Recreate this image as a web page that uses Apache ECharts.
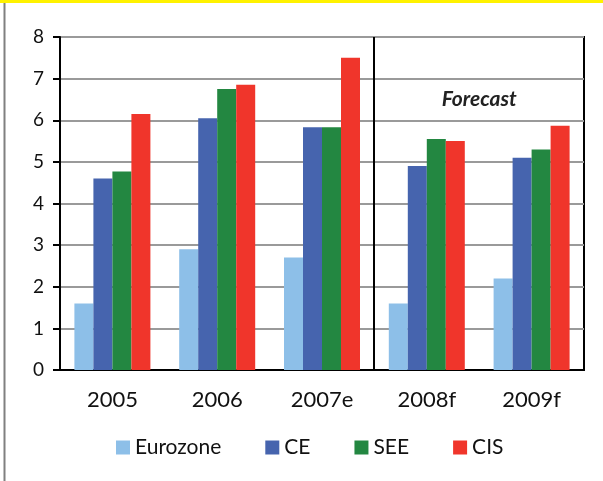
<!DOCTYPE html>
<html>
<head>
<meta charset="utf-8">
<script src="https://cdn.jsdelivr.net/npm/echarts@6/dist/echarts.min.js"></script>
<style>
  html, body { margin: 0; padding: 0; background: #fff; }
  #main { width: 603px; height: 481px; }
</style>
</head>
<body>
<div id="main"></div>
<script>
// categories and series values
var years = ['2005', '2006', '2007e', '2008f', '2009f']
var eurozone = [1.6, 2.9, 2.7, 1.6, 2.2]
var ce = [4.6, 6.05, 5.83, 4.9, 5.1]
var see = [4.77, 6.75, 5.83, 5.55, 5.3]
var cis = [6.15, 6.85, 7.5, 5.5, 5.87]
var seriesNames = ['Eurozone', 'CE', 'SEE', 'CIS']
var colors = ['#8dbfe8', '#4664ae', '#238741', '#f0352b']

var font = 'Lato, "DejaVu Sans", sans-serif'
var chartDom = document.getElementById('main')
var myChart = echarts.init(chartDom)

var makeBar = function (name, data) {
  return {
    name: name,
    type: 'bar',
    barWidth: 19,
    barGap: '0%',
    data: data,
  }
}

var option = {
  animation: false,
  color: colors,
  textStyle: { fontFamily: font },
  grid: {
    left: 60,
    right: 19,
    top: 37,
    bottom: 111,
    show: true,
    borderColor: '#000',
    borderWidth: 2,
  },
  legend: {
    data: seriesNames,
    left: 111,
    top: 432,
    itemWidth: 14,
    itemHeight: 14,
    itemGap: 44,
    icon: 'rect',
    textStyle: { fontSize: 21, color: '#111', fontFamily: font },
  },
  xAxis: {
    type: 'category',
    data: years,
    axisLine: { lineStyle: { color: '#000', width: 2 } },
    axisTick: { length: 6, lineStyle: { color: '#000', width: 2 } },
    axisLabel: { fontSize: 22, color: '#111', margin: 19, fontFamily: font },
  },
  yAxis: {
    type: 'value',
    min: 0,
    max: 8,
    interval: 1,
    axisLine: { show: true, lineStyle: { color: '#000', width: 2 } },
    axisTick: { show: true, length: 7, lineStyle: { color: '#000', width: 2 } },
    axisLabel: { fontSize: 19, color: '#111', margin: 16, fontFamily: font },
    splitLine: { lineStyle: { color: '#9a9a9a', width: 2 } },
  },
  series: [
    makeBar('Eurozone', eurozone),
    makeBar('CE', ce),
    makeBar('SEE', see),
    makeBar('CIS', cis),
  ],
}
myChart.setOption(option)

// separator between actual and forecast years, and the "Forecast" label
var c2 = myChart.convertToPixel({ xAxisIndex: 0 }, '2007e')
var c3 = myChart.convertToPixel({ xAxisIndex: 0 }, '2008f')
var c4 = myChart.convertToPixel({ xAxisIndex: 0 }, '2009f')
var yTop = myChart.convertToPixel({ yAxisIndex: 0 }, 8)
var yBottom = myChart.convertToPixel({ yAxisIndex: 0 }, 0)
var yF = myChart.convertToPixel({ yAxisIndex: 0 }, 6.5)
var xSep = Math.round((c2 + c3) / 2)

myChart.setOption({
  graphic: [
    { type: 'rect', left: 0, top: 0, shape: { width: 603, height: 3 }, style: { fill: '#fff200' } },
    { type: 'line', shape: { x1: 4.5, y1: 3, x2: 4.5, y2: 481 }, style: { stroke: '#808080', lineWidth: 2 } },
    { type: 'line', shape: { x1: xSep, y1: yTop, x2: xSep, y2: yBottom }, style: { stroke: '#000', lineWidth: 2 }, z: 10 },
    {
      type: 'text',
      x: (c3 + c4) / 2,
      y: yF,
      style: {
        text: 'Forecast',
        fontSize: 21,
        fontWeight: 'bold',
        fontStyle: 'italic',
        fontFamily: font,
        fill: '#222',
        align: 'center',
        verticalAlign: 'middle',
      },
    },
  ],
})

window.addEventListener('resize', function () {
  myChart.resize()
})
</script>
</body>
</html>
